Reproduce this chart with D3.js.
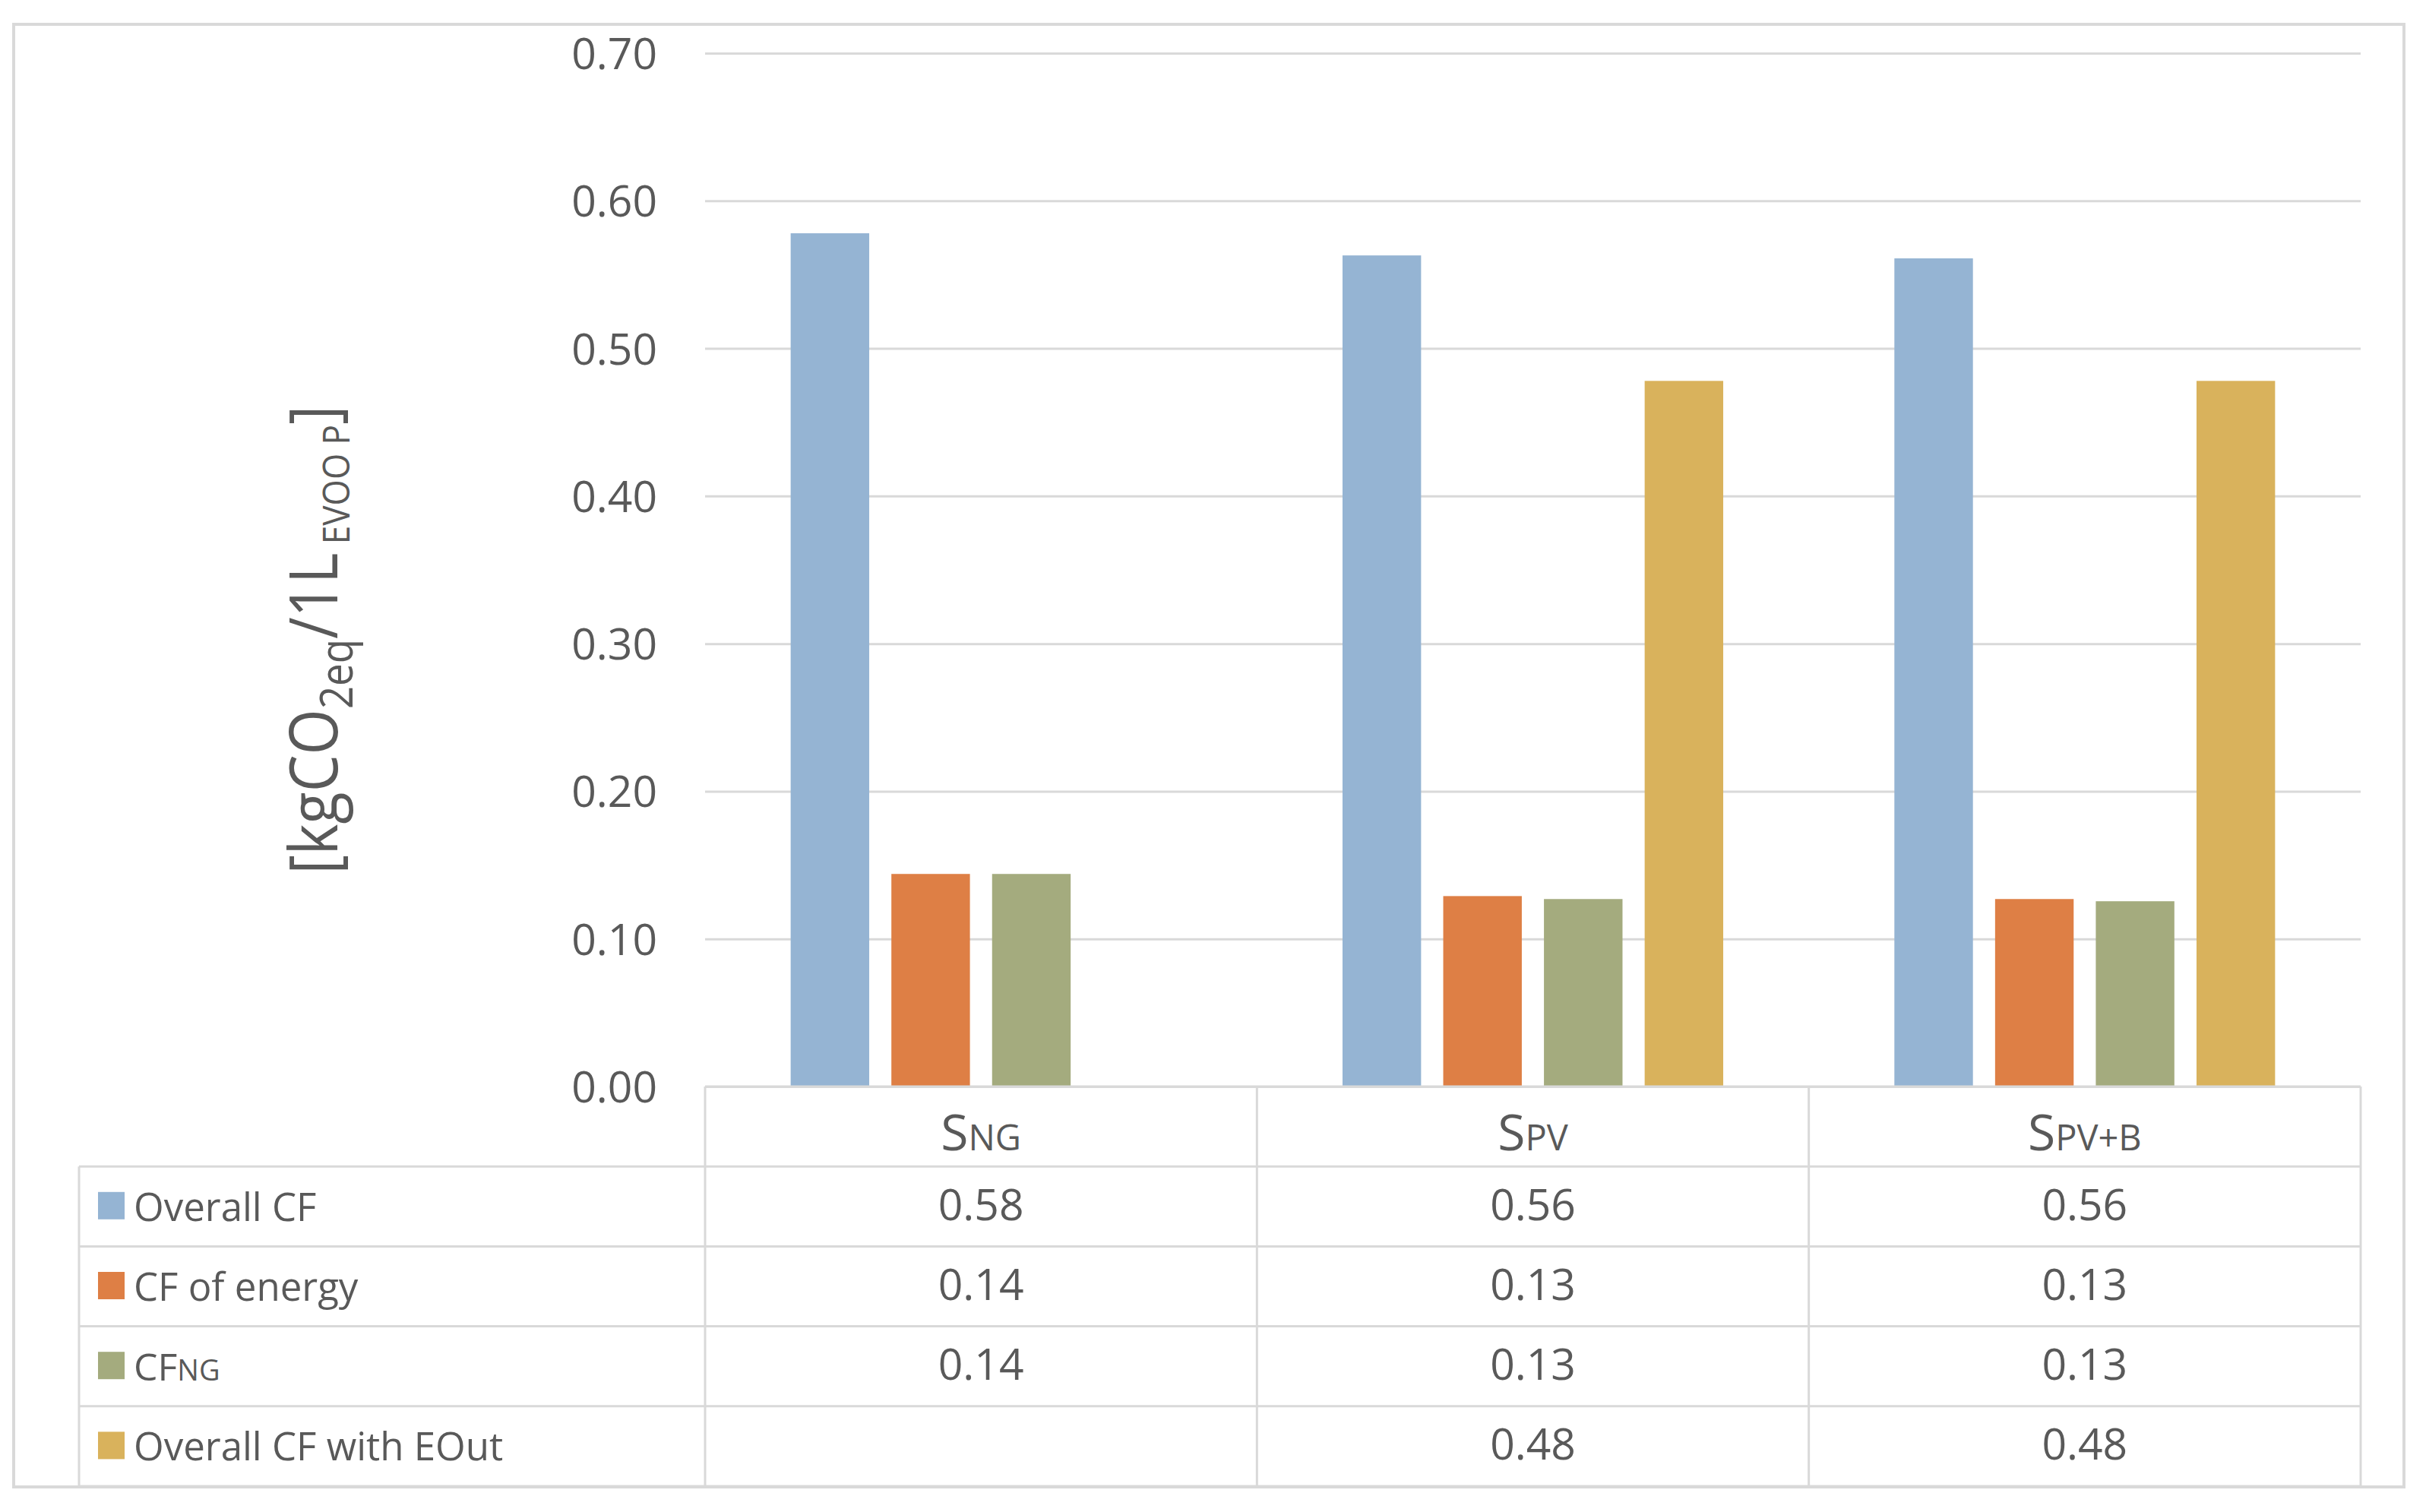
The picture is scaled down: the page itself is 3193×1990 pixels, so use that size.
<!DOCTYPE html>
<html lang="en">
<head>
  <meta charset="UTF-8" />
  <title>Carbon footprint</title>
  <style>
    body { margin: 0; background: #fff; }
    text { font-family: "Open Sans", sans-serif; fill: #595959; }
    .grid line { stroke: #d9d9d9; stroke-width: 3px; }
    .grid path { display: none; }
    .ticks text { font-size: 57px; }
    .table-line { stroke: #d9d9d9; stroke-width: 3px; }
  </style>
  <script src="https://d3js.org/d3.v7.min.js"></script>
</head>
<body>
  <div id="chart"></div>
  <script type="text/javascript">
    // categories: first letter big, the rest shown smaller
    const categories = ["SNG", "SPV", "SPV+B"];
    const seriesNames = ["Overall CF", "CF of energy", "CFNG", "Overall CF with EOut"];
    const seriesColors = ["#95b4d3", "#de7f45", "#a4ab7e", "#d9b25c"];

    const overallCF = [0.578, 0.563, 0.561];
    const cfEnergy = [0.144, 0.129, 0.127];
    const cfNG = [0.144, 0.127, 0.1255];
    const overallCFEOut = [null, 0.478, 0.478];

    const yTicks = [0, 0.1, 0.2, 0.3, 0.4, 0.5, 0.6, 0.7];

    const seriesValues = [overallCF, cfEnergy, cfNG, overallCFEOut];

    const W = 3193, H = 1990;
    const plot = { left: 928, right: 3107, top: 70, bottom: 1430 };
    const rowH = 105.2;
    const legendLeft = 104;

    const svg = d3.select("#chart").append("svg")
      .attr("width", W)
      .attr("height", H);

    // outer frame
    svg.append("rect")
      .attr("x", 18).attr("y", 32)
      .attr("width", 3146).attr("height", 1925)
      .attr("fill", "#fff")
      .attr("stroke", "#d9d9d9")
      .attr("stroke-width", 4);

    const x0 = d3.scaleBand()
      .domain(categories)
      .range([plot.left, plot.right])
      .paddingInner(0.27)
      .paddingOuter(0.135);

    const x1 = d3.scaleBand()
      .domain(seriesNames)
      .range([0, x0.bandwidth()])
      .paddingInner(0.22)
      .paddingOuter(0.11);

    const y = d3.scaleLinear()
      .domain([0, 0.7])
      .range([plot.bottom, plot.top]);

    // gridlines
    svg.append("g")
      .attr("class", "grid")
      .attr("transform", `translate(${plot.left},0)`)
      .call(d3.axisLeft(y).tickValues(yTicks).tickSize(-(plot.right - plot.left)).tickFormat(""));

    // tick labels
    svg.append("g")
      .attr("class", "ticks")
      .attr("transform", `translate(${plot.left},0)`)
      .call(d3.axisLeft(y).tickValues(yTicks).tickSize(0).tickPadding(63).tickFormat(d3.format(".2f")))
      .call(g => g.select(".domain").remove())
      .call(g => g.selectAll("text").attr("dy", "0.36em"));

    // bars
    const groups = svg.append("g").selectAll("g")
      .data(categories)
      .enter().append("g")
      .attr("transform", d => `translate(${x0(d)},0)`);

    groups.selectAll("rect")
      .data((c, ci) => seriesNames.map((s, si) => ({ s, si, v: seriesValues[si][ci] })).filter(d => d.v != null))
      .enter().append("rect")
      .attr("x", d => x1(d.s))
      .attr("width", x1.bandwidth())
      .attr("y", d => y(d.v))
      .attr("height", d => y(0) - y(d.v))
      .attr("fill", d => seriesColors[d.si]);

    // data table
    const step = x0.step();
    const colEdges = categories.map(c => x0(c) - x0.paddingInner() * step / 2).concat([plot.right]);
    const tbl = svg.append("g");

    // axis line / header top
    tbl.append("line").attr("class", "table-line")
      .attr("x1", plot.left).attr("x2", plot.right)
      .attr("y1", plot.bottom).attr("y2", plot.bottom);

    seriesNames.forEach((s, i) => {
      const yl = plot.bottom + rowH * (i + 1);
      tbl.append("line").attr("class", "table-line")
        .attr("x1", legendLeft).attr("x2", plot.right)
        .attr("y1", yl).attr("y2", yl);
    });
    const tableBottom = plot.bottom + rowH * (seriesNames.length + 1);
    tbl.append("line").attr("class", "table-line")
      .attr("x1", legendLeft).attr("x2", plot.right)
      .attr("y1", tableBottom).attr("y2", tableBottom);

    colEdges.forEach(xe => {
      tbl.append("line").attr("class", "table-line")
        .attr("x1", xe).attr("x2", xe)
        .attr("y1", plot.bottom).attr("y2", tableBottom);
    });
    tbl.append("line").attr("class", "table-line")
      .attr("x1", legendLeft).attr("x2", legendLeft)
      .attr("y1", plot.bottom + rowH).attr("y2", tableBottom);

    // category headers
    categories.forEach(c => {
      const t = tbl.append("text")
        .attr("x", x0(c) + x0.bandwidth() / 2)
        .attr("y", plot.bottom + rowH / 2 + 31)
        .attr("text-anchor", "middle");
      t.append("tspan").style("font-size", "66px").text(c.charAt(0));
      t.append("tspan").style("font-size", "47px").text(c.slice(1));
    });

    // legend rows + values
    const fmt = d3.format(".2f");
    seriesNames.forEach((s, i) => {
      const cy = plot.bottom + rowH * (i + 1) + rowH / 2;
      tbl.append("rect")
        .attr("x", 129).attr("y", cy - 19)
        .attr("width", 35).attr("height", 36)
        .attr("fill", seriesColors[i]);
      const t = tbl.append("text")
        .attr("x", 176)
        .attr("y", cy + 19);
      if (s === "CFNG") {
        t.append("tspan").style("font-size", "50px").text("CF");
        t.append("tspan").style("font-size", "38px").text("NG");
      } else {
        t.style("font-size", "51px").text(s);
      }
      categories.forEach((c, ci) => {
        const v = seriesValues[i][ci];
        if (v == null) return;
        tbl.append("text")
          .attr("x", x0(c) + x0.bandwidth() / 2)
          .attr("y", cy + 18)
          .attr("text-anchor", "middle")
          .style("font-size", "57px")
          .text(fmt(v));
      });
    });

    // y axis title
    const title = svg.append("text")
      .attr("transform", "translate(444,842) rotate(-90)")
      .attr("text-anchor", "middle")
      .attr("textLength", 617)
      .attr("lengthAdjust", "spacingAndGlyphs")
      .style("font-size", "88px");
    title.append("tspan").text("[kgCO");
    title.append("tspan").attr("dy", 20).style("font-size", "60px").text("2eq");
    title.append("tspan").attr("dy", -20).text("/1L");
    title.append("tspan").attr("dy", 16).style("font-size", "50px").text(" EVOO P");
    title.append("tspan").attr("dy", -16).text("]");
  </script>
</body>
</html>
